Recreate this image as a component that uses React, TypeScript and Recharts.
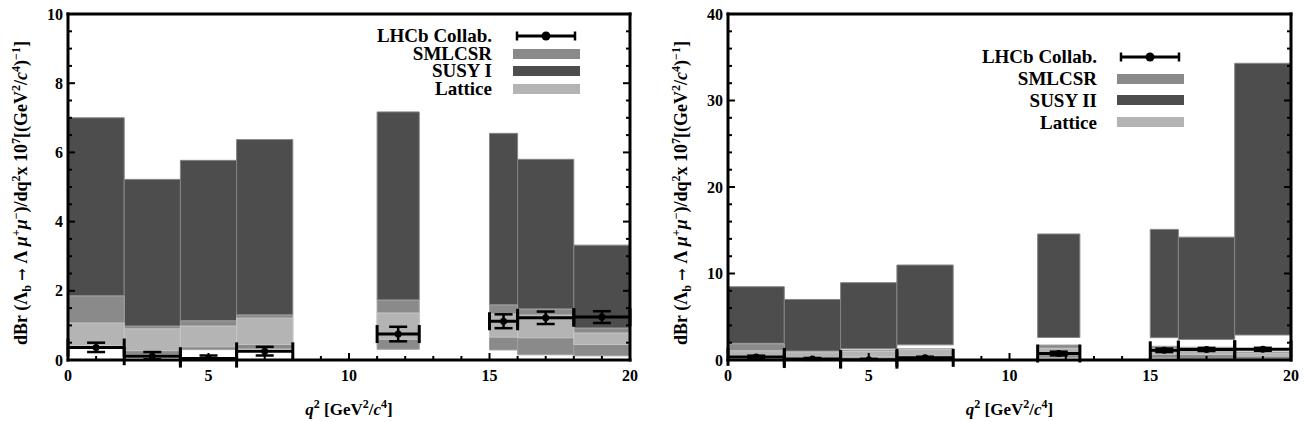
import {
  ComposedChart,
  ErrorBar,
  Legend,
  ReferenceArea,
  Scatter,
  XAxis,
  YAxis,
} from 'recharts'

// q^2 bins [GeV^2/c^4]
const binLo = [0, 2, 4, 6, 11, 15, 16, 18]
const binHi = [2, 4, 6, 8, 12.5, 16, 18, 20]

// LHCb measurement (dBr/dq^2 x 10^7)
const lhcbVal = [0.36, 0.11, 0.04, 0.25, 0.75, 1.12, 1.22, 1.24]
const lhcbErrDown = [0.13, 0.09, 0.02, 0.12, 0.21, 0.2, 0.18, 0.17]
const lhcbErrUp = [0.14, 0.12, 0.09, 0.13, 0.21, 0.2, 0.18, 0.17]

// SM light-cone sum rules band
const smlcsrLo = [0.5, 0.15, 0.3, 0.33, 0.31, 0.29, 0.15, 0.12]
const smlcsrHi = [1.85, 0.98, 1.13, 1.3, 1.73, 1.59, 1.47, 0.92]

// lattice band
const latticeLo = [0.42, 0.27, 0.38, 0.45, 0.6, 0.66, 0.64, 0.45]
const latticeHi = [1.07, 0.9, 0.98, 1.21, 1.36, 1.33, 1.3, 0.78]

// SUSY I (left) and SUSY II (right) bands
const susy1Lo = [1.85, 0.95, 1.13, 1.3, 1.73, 1.59, 1.47, 0.92]
const susy1Hi = [7.0, 5.22, 5.77, 6.37, 7.17, 6.55, 5.8, 3.32]
const susy2Lo = [1.93, 1.04, 1.3, 1.75, 2.6, 2.58, 2.38, 2.89]
const susy2Hi = [8.47, 7.0, 8.94, 10.98, 14.57, 15.1, 14.2, 34.3]

const xTicks = [0, 1, 2, 3, 4, 5, 6, 7, 8, 9, 10, 11, 12, 13, 14, 15, 16, 17, 18, 19, 20]
const yTicksLeft = [0, 0.5, 1, 1.5, 2, 2.5, 3, 3.5, 4, 4.5, 5, 5.5, 6, 6.5, 7, 7.5, 8, 8.5, 9, 9.5, 10]
const yTicksRight = [0, 2, 4, 6, 8, 10, 12, 14, 16, 18, 20, 22, 24, 26, 28, 30, 32, 34, 36, 38, 40]

const SERIF = "'Liberation Serif', 'Times New Roman', serif"
const DARK = '#4d4d4d'
const MID = '#8a8a8a'
const LIGHT = '#b4b4b4'

const lhcbPoints = binLo.map((lo, i) => ({
  q2: (lo + binHi[i]) / 2,
  dbr: lhcbVal[i],
  ex: (binHi[i] - lo) / 2,
  ey: [lhcbErrDown[i], lhcbErrUp[i]],
}))

const frame = { stroke: '#000', strokeWidth: 3, strokeLinecap: 'square' as const }

type Side = 'bottom' | 'top' | 'left' | 'right'

// ticks point into the plot; only majors get a number
const inwardTick = (side: Side, major: number, labelled: boolean) =>
  function Tick(props: any) {
    const { x, y, payload } = props
    const v = payload.value as number
    const isMajor = Math.abs(v / major - Math.round(v / major)) < 1e-6
    const len = isMajor ? 7 : 4
    const line =
      side === 'bottom'
        ? { x1: x, x2: x, y1: y, y2: y - len }
        : side === 'top'
          ? { x1: x, x2: x, y1: y, y2: y + len }
          : side === 'left'
            ? { x1: x, x2: x + len, y1: y, y2: y }
            : { x1: x, x2: x - len, y1: y, y2: y }
    const txt = { fontFamily: SERIF, fontWeight: 700, fontSize: 16, fill: '#000' }
    return (
      <g>
        <line {...line} stroke="#000" strokeWidth={2} />
        {labelled && isMajor && side === 'bottom' && (
          <text x={x} y={y + 21} textAnchor="middle" {...txt}>
            {v}
          </text>
        )}
        {labelled && isMajor && side === 'left' && (
          <text x={x - 5} y={y + 5.5} textAnchor="end" {...txt}>
            {v}
          </text>
        )}
      </g>
    )
  }

const sup = { fontSize: 12 }

const renderYTitle = (props: any) => {
  const vb = props.viewBox ?? { x: 67, y: 14, width: 1, height: 346 }
  const cx = vb.x + vb.width - 41
  const cy = vb.y + vb.height / 2
  return (
    <text
      x={cx}
      y={cy + 6}
      transform={`rotate(-90 ${cx} ${cy + 6})`}
      textAnchor="middle"
      fontFamily={SERIF}
      fontWeight={700}
      fontSize={18}
      fill="#000"
    >
      dBr (Λ
      <tspan dy={4} {...sup}>b</tspan>
      <tspan dy={-4}> </tspan>
      <tspan fontFamily="'DejaVu Serif', serif" fontSize={15}>→</tspan>
      <tspan> Λ </tspan>
      <tspan fontStyle="italic">μ</tspan>
      <tspan dy={-7} {...sup}>+</tspan>
      <tspan dy={7} fontStyle="italic">μ</tspan>
      <tspan dy={-7} {...sup}>−</tspan>
      <tspan dy={7}>)/dq</tspan>
      <tspan dy={-7} {...sup}>2</tspan>
      <tspan dy={7}>x 10</tspan>
      <tspan dy={-7} {...sup}>7</tspan>
      <tspan dy={7}>[(GeV</tspan>
      <tspan dy={-7} {...sup}>2</tspan>
      <tspan dy={7}>/</tspan>
      <tspan fontStyle="italic">c</tspan>
      <tspan dy={-7} {...sup}>4</tspan>
      <tspan dy={7}>)</tspan>
      <tspan dy={-7} {...sup}>−1</tspan>
      <tspan dy={7}>]</tspan>
    </text>
  )
}

const renderXTitle = (props: any) => {
  const vb = props.viewBox ?? { x: 68, y: 360, width: 562, height: 1 }
  const cx = vb.x + vb.width / 2
  return (
    <text
      x={cx}
      y={vb.y + 55}
      textAnchor="middle"
      fontFamily={SERIF}
      fontWeight={700}
      fontSize={17}
      fill="#000"
    >
      <tspan fontStyle="italic">q</tspan>
      <tspan dy={-7} {...sup}>2</tspan>
      <tspan dy={7}> [GeV</tspan>
      <tspan dy={-7} {...sup}>2</tspan>
      <tspan dy={7}>/</tspan>
      <tspan fontStyle="italic">c</tspan>
      <tspan dy={-7} {...sup}>4</tspan>
      <tspan dy={7}>]</tspan>
    </text>
  )
}

const renderDot = (p: any) => <circle cx={p.cx} cy={p.cy} r={3.5} fill="#000" />

type LegendLayout = { top: number; rowH: number; labelRight: number; swatchX: number }

function LegendBox({ susyName, lay }: { susyName: string; lay: LegendLayout }) {
  const rows = [
    { name: 'LHCb Collab.', color: '' },
    { name: 'SMLCSR', color: MID },
    { name: susyName, color: DARK },
    { name: 'Lattice', color: LIGHT },
  ]
  return (
    <div
      style={{
        position: 'relative',
        width: lay.swatchX + 80,
        height: lay.top + lay.rowH * 4,
        fontFamily: SERIF,
        fontWeight: 700,
        fontSize: 19,
        color: '#000',
      }}
    >
      {rows.map((r, i) => {
        const cy = lay.top + i * lay.rowH
        return (
          <div key={r.name}>
            <div
              style={{
                position: 'absolute',
                left: 0,
                width: lay.labelRight,
                top: cy - 8.6,
                height: 17,
                lineHeight: '17px',
                textAlign: 'right',
                whiteSpace: 'nowrap',
              }}
            >
              {r.name}
            </div>
            {r.color ? (
              <div
                style={{
                  position: 'absolute',
                  left: lay.swatchX,
                  top: cy - 5,
                  width: 67,
                  height: 10,
                  background: r.color,
                }}
              />
            ) : (
              <svg style={{ position: 'absolute', left: lay.swatchX, top: cy - 6 }} width={67} height={12}>
                <line x1={4} x2={62} y1={6} y2={6} stroke="#000" strokeWidth={3} />
                <line x1={4} x2={4} y1={1.5} y2={10.5} stroke="#000" strokeWidth={2.5} />
                <line x1={62} x2={62} y1={1.5} y2={10.5} stroke="#000" strokeWidth={2.5} />
                <circle cx={33} cy={6} r={4.5} fill="#000" />
              </svg>
            )}
          </div>
        )
      })}
    </div>
  )
}

type PanelProps = {
  width: number
  marginRight: number
  yMax: number
  yTicks: number[]
  yMajor: number
  susyLo: number[]
  susyHi: number[]
  susyName: string
  lay: LegendLayout
}

function Panel({ width, marginRight, yMax, yTicks, yMajor, susyLo, susyHi, susyName, lay }: PanelProps) {
  const bands = [
    { lo: susyLo, hi: susyHi, fill: DARK, stroke: '#858585' },
    { lo: smlcsrLo, hi: smlcsrHi, fill: MID, stroke: '#a0a0a0' },
    { lo: latticeLo, hi: latticeHi, fill: LIGHT, stroke: '#c6c6c6' },
  ]
  return (
    <ComposedChart width={width} height={422} margin={{ top: 13, right: marginRight - 1, bottom: 61, left: 67 }}>
      <XAxis
        xAxisId="b"
        type="number"
        dataKey="q2"
        domain={[0, 20]}
        ticks={xTicks}
        interval={0}
        height={1}
        tickSize={0}
        tickMargin={0}
        axisLine={frame}
        tick={inwardTick('bottom', 5, true)}
        label={renderXTitle}
        allowDataOverflow
      />
      <XAxis
        xAxisId="t"
        orientation="top"
        type="number"
        domain={[0, 20]}
        ticks={xTicks}
        interval={0}
        height={1}
        tickSize={0}
        tickMargin={0}
        axisLine={frame}
        tick={inwardTick('top', 5, false)}
        allowDataOverflow
      />
      <YAxis
        yAxisId="l"
        type="number"
        dataKey="dbr"
        domain={[0, yMax]}
        ticks={yTicks}
        interval={0}
        width={1}
        tickSize={0}
        tickMargin={0}
        axisLine={frame}
        tick={inwardTick('left', yMajor, true)}
        label={renderYTitle}
        allowDataOverflow
      />
      <YAxis
        yAxisId="r"
        orientation="right"
        type="number"
        domain={[0, yMax]}
        ticks={yTicks}
        interval={0}
        width={1}
        tickSize={0}
        tickMargin={0}
        axisLine={frame}
        tick={inwardTick('right', yMajor, false)}
        allowDataOverflow
      />
      {bands.map((b, k) =>
        binLo.map((lo, i) => (
          <ReferenceArea
            key={`${k}-${i}`}
            xAxisId="b"
            yAxisId="l"
            x1={lo}
            x2={binHi[i]}
            y1={b.lo[i]}
            y2={b.hi[i]}
            fill={b.fill}
            fillOpacity={1}
            stroke={b.stroke}
            strokeWidth={1}
            ifOverflow="visible"
          />
        )),
      )}
      <Scatter
        xAxisId="b"
        yAxisId="l"
        data={lhcbPoints}
        dataKey="dbr"
        shape={renderDot}
        legendType="none"
        isAnimationActive={false}
      >
        <ErrorBar dataKey="ex" direction="x" width={9} stroke="#000" strokeWidth={3} isAnimationActive={false} />
        <ErrorBar dataKey="ey" direction="y" width={9} stroke="#000" strokeWidth={2.5} isAnimationActive={false} />
      </Scatter>
      <Legend
        layout="vertical"
        align="center"
        verticalAlign="middle"
        wrapperStyle={{ left: 0, top: 0 }}
        content={() => <LegendBox susyName={susyName} lay={lay} />}
      />
    </ComposedChart>
  )
}

export default function App() {
  return (
    <div style={{ position: 'absolute', left: 0, top: 0, width: 1305, height: 422, background: '#fff' }}>
      <div style={{ position: 'absolute', left: 0, top: 0 }}>
        <Panel
          width={660}
          marginRight={30}
          yMax={10}
          yTicks={yTicksLeft}
          yMajor={2}
          susyLo={susy1Lo}
          susyHi={susy1Hi}
          susyName="SUSY I"
          lay={{ top: 36, rowH: 17.5, labelRight: 492, swatchX: 513 }}
        />
      </div>
      <div style={{ position: 'absolute', left: 660, top: 0 }}>
        <Panel
          width={645}
          marginRight={14}
          yMax={40}
          yTicks={yTicksRight}
          yMajor={10}
          susyLo={susy2Lo}
          susyHi={susy2Hi}
          susyName="SUSY II"
          lay={{ top: 57, rowH: 21.7, labelRight: 437, swatchX: 457 }}
        />
      </div>
    </div>
  )
}
